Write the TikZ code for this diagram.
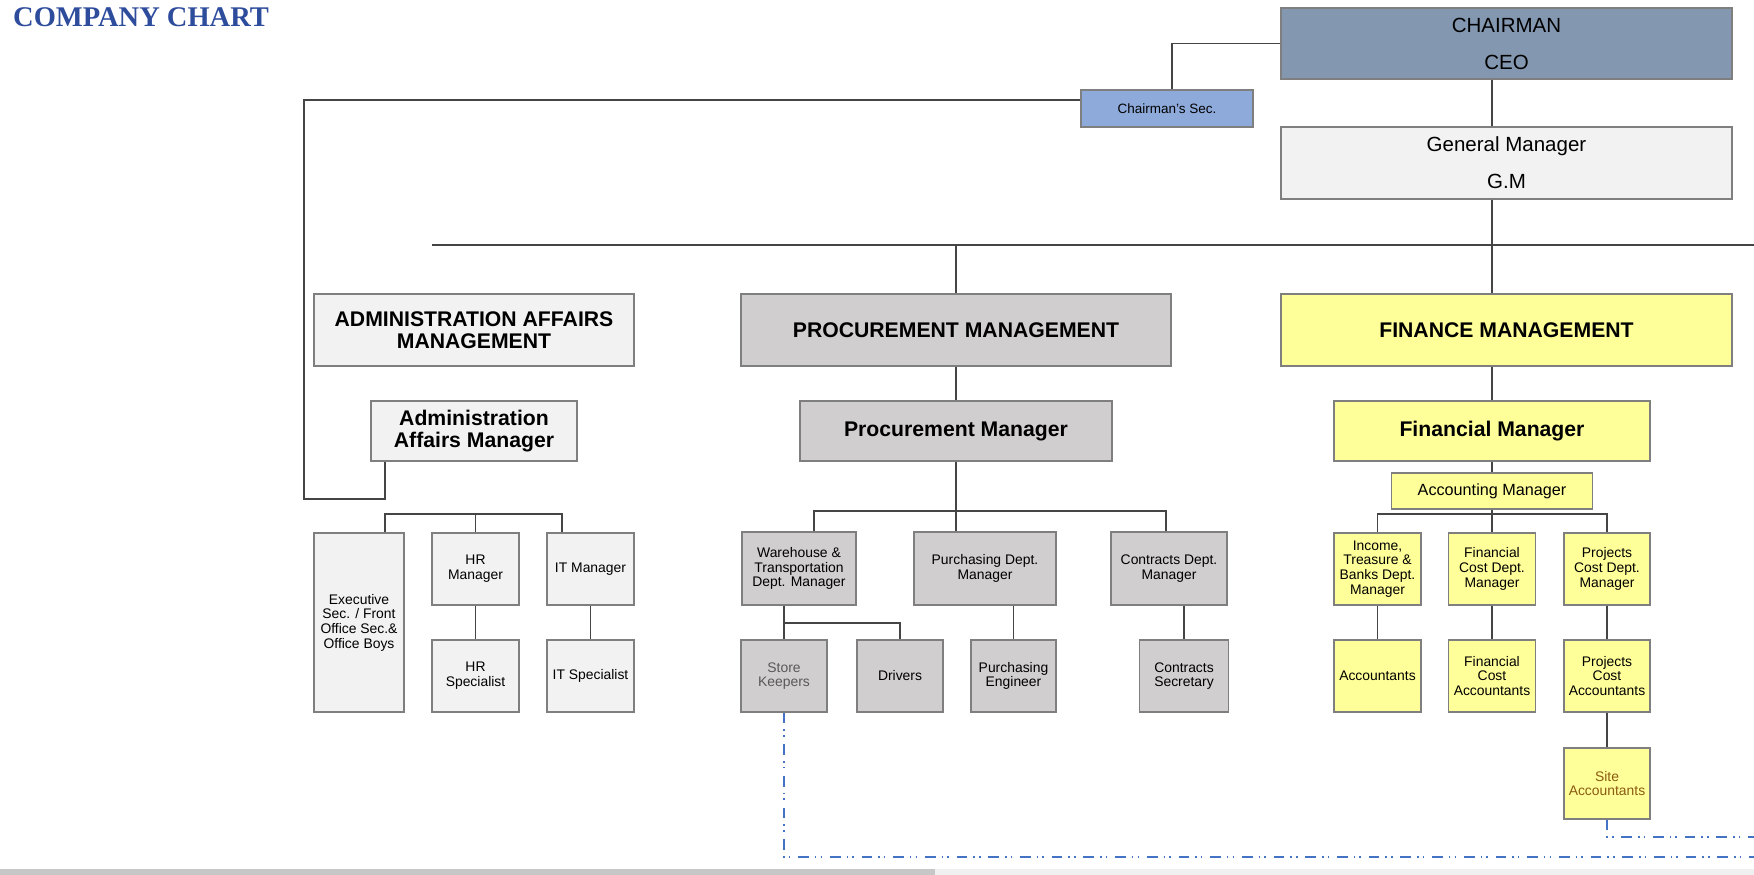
\documentclass[tikz,border=0pt]{standalone}
\usepackage{fontspec}
\setmainfont{Liberation Sans}
\newfontfamily\titlefont{Liberation Serif}
\definecolor{chairblue}{HTML}{8497B0}
\definecolor{secblue}{HTML}{8EAADB}
\definecolor{lightgr}{HTML}{F2F2F2}
\definecolor{procgr}{HTML}{D0CECE}
\definecolor{finyel}{HTML}{FFFF99}
\definecolor{titleblue}{HTML}{2E4C9C}
\definecolor{dashblue}{HTML}{4472C4}
\definecolor{sitebrown}{HTML}{8A5A12}
\definecolor{boxline}{HTML}{7F7F7F}
\definecolor{linegr}{HTML}{454545}
\tikzset{
  box/.style={draw=boxline,line width=1.3pt,inner sep=2pt,align=center},
  sz/.style 2 args={minimum width=#1,minimum height=#2},
  small/.style={box,font=\fontsize{13.9}{14.7}\selectfont},
  head/.style={box,font=\bfseries\fontsize{21.2}{22.5}\selectfont},
  topbox/.style={box,font=\fontsize{20.5}{37}\selectfont},
  link/.style={draw=linegr,line width=1.4pt},
  dashln/.style={draw=dashblue,line width=1.5pt,
    dash pattern=on 10.7pt off 6pt on 1.5pt off 4.2pt on 1.5pt off 7.8pt},
}

\begin{document}
\begin{tikzpicture}[x=1pt,y=-1pt]
  \useasboundingbox (0,0) rectangle (1754,875);
  \node[anchor=base west,inner sep=0,text=titleblue,
    font=\titlefont\bfseries\fontsize{28.5}{30}\selectfont] (title) at (13,27) {COMPANY CHART};

  % top
  \node[topbox,fill=chairblue,sz={451}{71}] (chair) at (1506.5,43.5) {CHAIRMAN\\CEO};
  \node[box,fill=secblue,sz={172}{37},font=\fontsize{13.5}{15}\selectfont] (sec) at (1167,108.5) {Chairman's Sec.};
  \node[topbox,fill=lightgr,sz={451}{72}] (gm) at (1506.5,163) {General Manager\\G.M};

  % departments
  \node[head,fill=lightgr,sz={320}{72}] (admmgmt) at (474,330) {ADMINISTRATION AFFAIRS\\MANAGEMENT};
  \node[head,fill=procgr,sz={430}{72}] (procmgmt) at (956,330) {PROCUREMENT MANAGEMENT};
  \node[head,fill=finyel,sz={451}{72}] (finmgmt) at (1506.5,330) {FINANCE MANAGEMENT};
  \node[head,fill=lightgr,sz={206}{60}] (admmgr) at (474,431) {Administration\\Affairs Manager};
  \node[head,fill=procgr,sz={312}{60}] (procmgr) at (956,431) {Procurement Manager};
  \node[head,fill=finyel,sz={316}{60}] (finmgr) at (1492,431) {Financial Manager};
  \node[box,fill=finyel,sz={201}{36},font=\fontsize{16.2}{18}\selectfont] (acctmgr) at (1492,491) {Accounting Manager};

  % administration
  \node[small,fill=lightgr,sz={90}{179}] (exec) at (359,622.5) {Executive\\Sec. / Front\\Office Sec.\&\\Office Boys};
  \node[small,fill=lightgr,sz={87}{72}] (hrmgr) at (475.5,569) {HR\\Manager};
  \node[small,fill=lightgr,sz={87}{72}] (itmgr) at (590.5,569) {IT Manager};
  \node[small,fill=lightgr,sz={87}{72}] (hrspec) at (475.5,676) {HR\\Specialist};
  \node[small,fill=lightgr,sz={87}{72}] (itspec) at (590.5,676) {IT Specialist};

  % procurement
  \node[small,fill=procgr,sz={114}{73}] (wh) at (799,568.5) {Warehouse \&\\Transportation\\Dept. Manager};
  \node[small,fill=procgr,sz={142}{73}] (purch) at (985,568.5) {Purchasing Dept.\\Manager};
  \node[small,fill=procgr,sz={116}{73}] (contr) at (1169,568.5) {Contracts Dept.\\Manager};
  \node[small,fill=procgr,sz={86}{72},text=black!65] (store) at (784,676) {Store\\Keepers};
  \node[small,fill=procgr,sz={86}{72}] (drivers) at (900,676) {Drivers};
  \node[small,fill=procgr,sz={85}{72}] (purcheng) at (1013.5,676) {Purchasing\\Engineer};
  \node[small,fill=procgr,sz={89}{72}] (contrsec) at (1184,676) {Contracts\\Secretary};

  % finance
  \node[small,fill=finyel,sz={87}{72}] (income) at (1377.5,569) {Income,\\Treasure \&\\Banks Dept.\\Manager};
  \node[small,fill=finyel,sz={87}{72}] (fincost) at (1492,569) {Financial\\Cost Dept.\\Manager};
  \node[small,fill=finyel,sz={86}{72}] (projcost) at (1607,569) {Projects\\Cost Dept.\\Manager};
  \node[small,fill=finyel,sz={87}{72}] (acct) at (1377.5,676) {Accountants};
  \node[small,fill=finyel,sz={87}{72}] (fincostacc) at (1492,676) {Financial\\Cost\\Accountants};
  \node[small,fill=finyel,sz={86}{72}] (projcostacc) at (1607,676) {Projects\\Cost\\Accountants};
  \node[small,fill=finyel,sz={86}{71},text=sitebrown] (site) at (1607,783.5) {Site\\Accountants};

  % connectors
  \coordinate (trunk) at (1492,0);
  \coordinate (busL) at (432,245);
  \coordinate (busR) at (1754,245);
  \coordinate (loopTL) at (304,100);
  \coordinate (loopBR) at (385,499);
  \draw[link] (chair.south -| trunk) -- (gm.north -| trunk);
  \draw[link] (chair.west) -| ([xshift=5]sec.north);
  \draw[link] (sec.west |- loopTL) -- (loopTL) |- (loopBR) -- (loopBR |- admmgr.south);
  \draw[link] (gm.south -| trunk) -- (finmgmt.north -| trunk);
  \draw[link] (busL) -- (busR);
  \draw[link] (procmgmt.north |- busL) -- (procmgmt.north);
  \draw[link] (procmgmt.south) -- (procmgr.north);
  \draw[link] (finmgmt.south -| trunk) -- (finmgr.north);
  \draw[link] (finmgr.south) -- (acctmgr.north);

  \coordinate (abusL) at (385,514);
  \coordinate (abusR) at (562,514);
  \draw[link] (abusL |- exec.north) -- (abusL) -- (abusR) -- (abusR |- itmgr.north);
  \draw[link] (hrmgr.north) -- (hrmgr.north |- abusL);
  \draw[link] (hrmgr.south) -- (hrspec.north);
  \draw[link] (itmgr.south) -- (itspec.north);

  \coordinate (pbusL) at (814,511);
  \coordinate (pbusR) at (1166,511);
  \coordinate (whbus) at (784,623);
  \draw[link] (pbusL |- wh.north) -- (pbusL) -- (pbusR) -- (pbusR |- contr.north);
  \draw[link] (procmgr.south) -- (procmgr.south |- purch.north);
  \draw[link] (wh.south -| store.north) -- (store.north);
  \draw[link] (whbus) -| (drivers.north);
  \draw[link] (purch.south -| purcheng.north) -- (purcheng.north);
  \draw[link] (contr.south -| contrsec.north) -- (contrsec.north);

  \coordinate (fbusL) at (1377.5,514);
  \coordinate (fbusR) at (1607,514);
  \draw[link] (fbusL |- income.north) -- (fbusL) -- (fbusR) -- (fbusR |- projcost.north);
  \draw[link] (acctmgr.south) -- (fincost.north);
  \draw[link] (income.south) -- (acct.north);
  \draw[link] (fincost.south) -- (fincostacc.north);
  \draw[link] (projcost.south) -- (projcostacc.north);
  \draw[link] (projcostacc.south) -- (site.north);

  \coordinate (dashA) at (1754,857);
  \coordinate (dashB) at (1754,837);
  \draw[dashln] (store.south) |- (dashA);
  \draw[dashln] (site.south) |- (dashB);

  \fill[black!22] (0,869) rectangle (935,875);
  \fill[black!6] (935,869) rectangle (1754,875);
\end{tikzpicture}
\end{document}
